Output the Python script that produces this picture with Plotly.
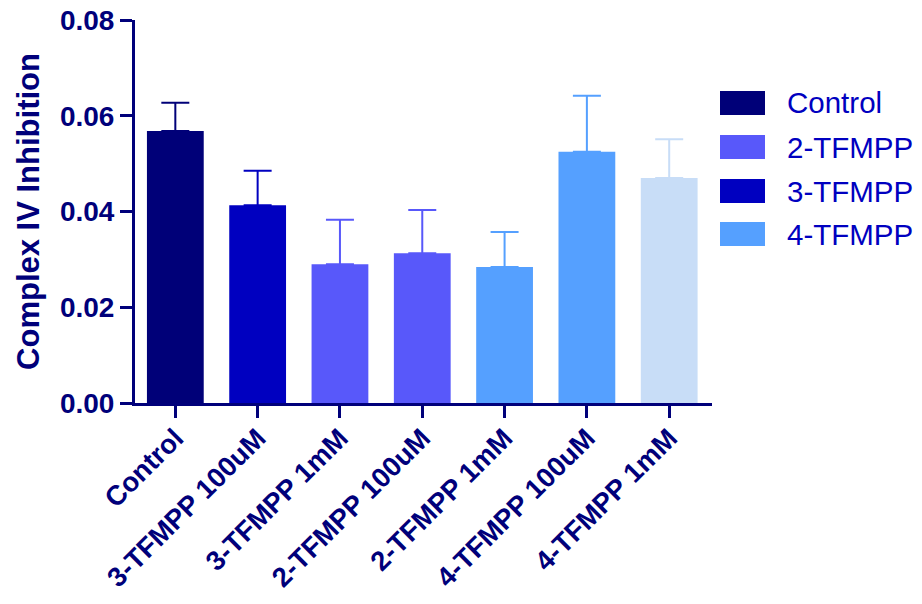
import plotly.graph_objects as go

categories = ["Control", "3-TFMPP 100uM", "3-TFMPP 1mM", "2-TFMPP 100uM",
              "2-TFMPP 1mM", "4-TFMPP 100uM", "4-TFMPP 1mM"]
means = [0.0568, 0.0413, 0.0290, 0.0313, 0.0284, 0.0525, 0.0470]
errors = [0.0059, 0.0072, 0.0093, 0.0090, 0.0073, 0.0117, 0.0081]
bar_colors = ["#000078", "#0000C0", "#5858FA", "#5858FA", "#55A0FF", "#55A0FF", "#C8DDF7"]

legend_names = ["Control", "2-TFMPP", "3-TFMPP", "4-TFMPP"]
legend_colors = ["#000078", "#5858FA", "#0000C0", "#55A0FF"]

y_ticks = [0.00, 0.02, 0.04, 0.06, 0.08]
y_ticklabels = ["0.00", "0.02", "0.04", "0.06", "0.08"]

NAVY = "#00007A"
FONT = "Liberation Sans, Arial, sans-serif"

fig = go.Figure()
for i, (c, m, e, col) in enumerate(zip(categories, means, errors, bar_colors)):
    fig.add_trace(go.Bar(
        x=[c], y=[m],
        width=0.69,
        marker=dict(color=col, line=dict(width=0)),
        error_y=dict(type="data", array=[e], arrayminus=[0], symmetric=False,
                     color=col, thickness=2, width=14),
        showlegend=False,
    ))

# page offset (body margin) compensation: keep the whole page within the window
OFF = 8
W, H = 922 - 2 * OFF, 604 - 2 * OFF
l, t = 135 - OFF, 20 - OFF
pw, ph = 577, 383
r, b = W - l - pw, H - t - ph

def px_to_paper_x(px):
    return (px - OFF - l) / pw

def px_to_paper_y(py):
    return (H - b - (py - OFF)) / ph

leg_centers = [103, 147, 191, 234]
shapes = []
annotations = []
for name, col, cy in zip(legend_names, legend_colors, leg_centers):
    shapes.append(dict(type="rect", xref="paper", yref="paper",
                       x0=px_to_paper_x(720), x1=px_to_paper_x(765),
                       y0=px_to_paper_y(cy + 12), y1=px_to_paper_y(cy - 12),
                       fillcolor=col, line=dict(width=0)))
    annotations.append(dict(xref="paper", yref="paper",
                            x=px_to_paper_x(785), y=px_to_paper_y(cy),
                            xanchor="left", yanchor="middle", showarrow=False,
                            text=name,
                            font=dict(family=FONT, size=29.5, color="#0000C0")))

fig.update_layout(
    width=W, height=H,
    margin=dict(l=l, r=r, t=t, b=b, autoexpand=False),
    plot_bgcolor="white", paper_bgcolor="white",
    barmode="overlay",
    shapes=shapes, annotations=annotations,
    showlegend=False,
)
fig.update_xaxes(
    type="category", categoryorder="array", categoryarray=categories,
    range=[-0.49, 6.52],
    showline=True, linecolor=NAVY, linewidth=3,
    ticks="outside", ticklen=12, tickwidth=3, tickcolor=NAVY,
    tickangle=-45, ticklabeloverflow="allow", ticklabelstandoff=-7,
    tickfont=dict(family=FONT, size=27.5, color=NAVY, weight="bold"),
    showgrid=False, zeroline=False, automargin=False,
)
fig.update_yaxes(
    range=[0, 0.08],
    tickvals=y_ticks, ticktext=y_ticklabels,
    showline=True, linecolor=NAVY, linewidth=3,
    ticks="outside", ticklen=12, tickwidth=3, tickcolor=NAVY,
    ticklabeloverflow="allow",
    tickfont=dict(family=FONT, size=28, color=NAVY, weight="bold"),
    title=dict(text="Complex IV Inhibition", standoff=12,
               font=dict(family=FONT, size=31, color=NAVY, weight="bold")),
    showgrid=False, zeroline=False, automargin=False,
)

fig.write_html("out.html")
